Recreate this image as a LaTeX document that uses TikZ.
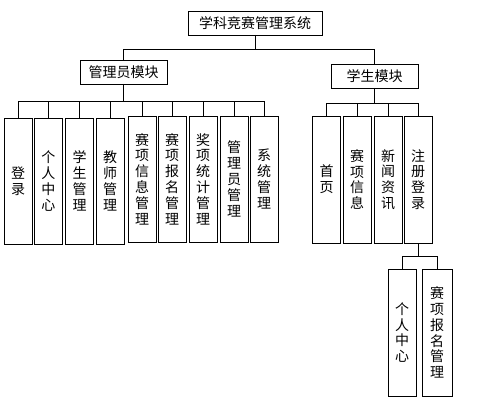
\documentclass[tikz,border=0pt]{standalone}
\usepackage{fontspec}
\newfontfamily\cjk{Noto Sans CJK SC}
\usetikzlibrary{positioning}
\tikzset{every module node/.style={draw,line width=0.8pt,minimum height=24pt,inner sep=1pt,outer sep=0pt,font=\cjk\fontsize{14}{14}\selectfont}}
\tikzset{every leaf node/.style={draw,line width=0.8pt,minimum width=28pt,minimum height=126pt,inner sep=1pt,outer sep=0pt,align=center,font=\cjk\fontsize{14}{15.8}\selectfont}}
\tikzset{module/.style={every module node}}
\tikzset{leaf/.style={every leaf node}}

\begin{document}
\begin{tikzpicture}[x=1pt,y=-1pt,line width=0.8pt]
                    \useasboundingbox (0,0) rectangle (477,417);
                    \node[module,minimum width=134pt](S) at (255,23){学科竞赛管理系统};
                    \node[module,minimum width=87pt](M) at (123.5,72){管理员模块};
                    \node[module,minimum width=87pt](U) at (374.5,76){学生模块};

                    % admin leaves
                    \node[leaf](A1) at (18,181){登\\录};
                    \node[leaf](A2) at (48.5,181){个\\人\\中\\心};
                    \node[leaf](A3) at (79.5,181){学\\生\\管\\理};
                    \node[leaf](A4) at (110,181){教\\师\\管\\理};
                    \node[leaf](A5) at (142,179){赛\\项\\信\\息\\管\\理};
                    \node[leaf](A6) at (172,179){赛\\项\\报\\名\\管\\理};
                    \node[leaf](A7) at (203,179){奖\\项\\统\\计\\管\\理};
                    \node[leaf](A8) at (234,179){管\\理\\员\\管\\理};
                    \node[leaf](A9) at (264,179){系\\统\\管\\理};

                    % student leaves
                    \node[leaf,minimum height=127pt](B1) at (326.5,179.5){首\\页};
                    \node[leaf,minimum height=127pt](B2) at (357,179.5){赛\\项\\信\\息};
                    \node[leaf,minimum height=127pt](B3) at (388,179.5){新\\闻\\资\\讯};
                    \node[leaf,minimum height=127pt](B4) at (418,179.5){注\\册\\登\\录};

                    \node[leaf,minimum height=127pt](C1) at (402,332.5){个\\人\\中\\心};
                    \node[leaf,minimum height=127pt,minimum width=30pt](C2) at (437,332.5){赛\\项\\报\\名\\管\\理};

                    \draw (S.south) -- ++(0,14) coordinate (s0);
                    \draw (s0) -| (M.north);
                    \draw (s0) -| (U.north);

                    \draw (M.south) -- ++(0,17) coordinate (m0);
                    \draw (m0) -| (A1.north);
                    \draw (m0) -| (A2.north);
                    \draw (m0) -| (A3.north);
                    \draw (m0) -| (A4.north);
                    \draw (m0) -| (A5.north);
                    \draw (m0) -| (A6.north);
                    \draw (m0) -| (A7.north);
                    \draw (m0) -| (A8.north);
                    \draw (m0) -| (A9.north);

                    \draw (U.south) -- ++(0,15) coordinate (u0);
                    \draw (u0) -| (B1.north);
                    \draw (u0) -| (B2.north);
                    \draw (u0) -| (B3.north);
                    \draw (u0) -| (B4.north);

                    \draw (B4.south) -- ++(0,13) coordinate (b0);
                    \draw (b0) -| (C1.north);
                    \draw (b0) -| (C2.north);

                \end{tikzpicture}
\end{document}
